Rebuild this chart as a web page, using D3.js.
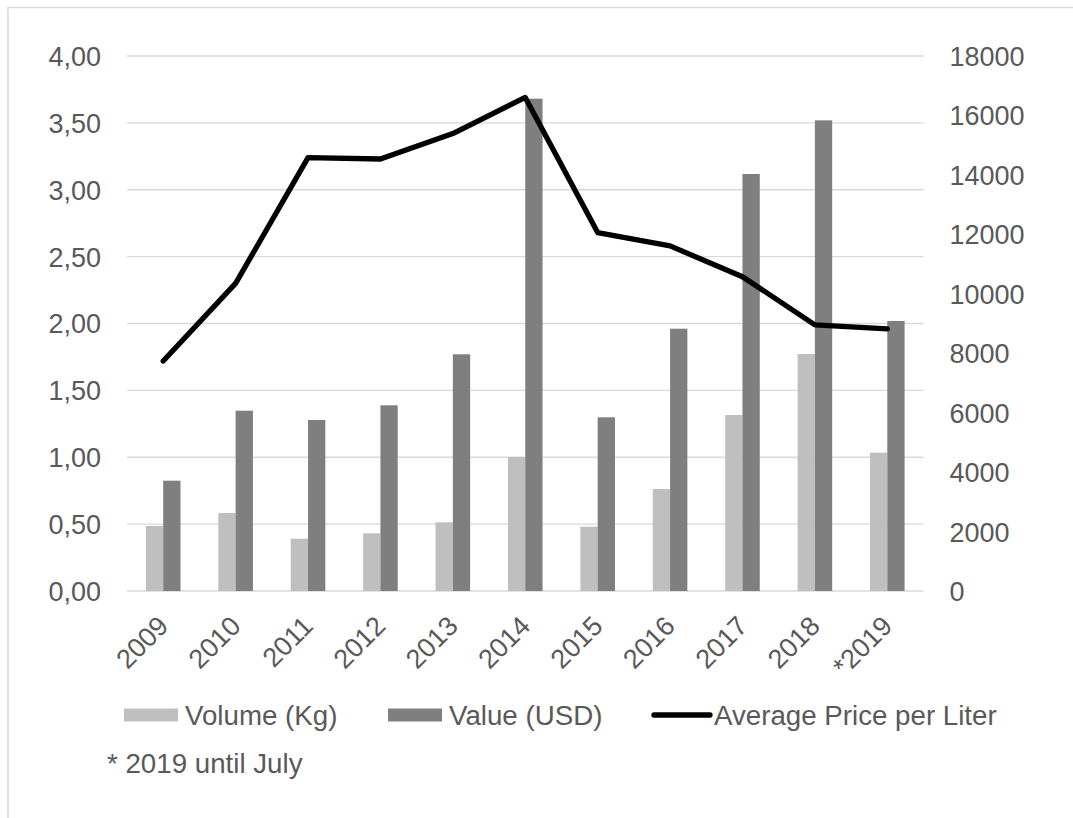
<!DOCTYPE html>
<html>
<head>
<meta charset="utf-8">
<script src="https://cdn.jsdelivr.net/npm/d3@7"></script>
<style>
  html, body { margin: 0; padding: 0; background: #fff; }
  svg { display: block; font-family: "Liberation Sans", Arial, sans-serif; }
</style>
</head>
<body>
<svg id="chart" width="1073" height="818"></svg>
<script>
// Export figures by year (2019 covers January to July)
const years = ["2009", "2010", "2011", "2012", "2013", "2014", "2015", "2016", "2017", "2018", "*2019"];
const volumeKg = [2187, 2624, 1760, 1941, 2311, 4508, 2163, 3432, 5921, 7974, 4653];
const valueUSD = [3711, 6066, 5753, 6248, 7964, 16564, 5844, 8825, 14030, 15836, 9084];
const avgPrice = [1.72, 2.30, 3.24, 3.23, 3.42, 3.69, 2.68, 2.58, 2.35, 1.99, 1.96];

const leftTicks = [0, 0.5, 1, 1.5, 2, 2.5, 3, 3.5, 4];
const rightTicks = [0, 2000, 4000, 6000, 8000, 10000, 12000, 14000, 16000, 18000];

const seriesNames = ["Volume (Kg)", "Value (USD)", "Average Price per Liter"];
const footnote = "* 2019 until July";

const colors = { volume: "#bfbfbf", value: "#7f7f7f", line: "#000000", text: "#595959", grid: "#d9d9d9" };

const svg = d3.select("#chart");
const plot = { left: 127, right: 923.5, top: 56, bottom: 591 };
const fontSize = 27;
const legendFont = 27.7;

// frame around the chart
svg.append("path")
  .attr("d", "M8,818 V7.5 H1073")
  .attr("fill", "none")
  .attr("stroke", colors.grid)
  .attr("stroke-width", 1.5);

const x = d3.scaleBand().domain(years).range([plot.left, plot.right]).padding(0);
const barW = 17.3;
const sub = d3.scaleBand().domain(["volume", "value"]).range([-barW, barW]).padding(0);

const yLeft = d3.scaleLinear().domain([0, 4]).range([plot.bottom, plot.top]);
const yRight = d3.scaleLinear().domain([0, 18000]).range([plot.bottom, plot.top]);

// horizontal gridlines
svg.append("g")
  .selectAll("line")
  .data(leftTicks)
  .join("line")
  .attr("x1", plot.left).attr("x2", plot.right)
  .attr("y1", d => yLeft(d)).attr("y2", d => yLeft(d))
  .attr("stroke", colors.grid)
  .attr("stroke-width", 1.4);

// left axis (price)
const fmtLeft = v => d3.format(".2f")(v).replace(".", ",");
const leftAxis = svg.append("g")
  .attr("transform", `translate(${plot.left - 26},0)`)
  .call(d3.axisLeft(yLeft).tickValues(leftTicks).tickFormat(fmtLeft).tickSize(0).tickPadding(0));
leftAxis.select(".domain").remove();
leftAxis.selectAll("text")
  .attr("fill", colors.text)
  .attr("font-size", fontSize)
  .attr("font-family", "Liberation Sans, Arial, sans-serif")
  .attr("dy", "0.35em");

// right axis (volume / value)
const rightAxis = svg.append("g")
  .attr("transform", `translate(${plot.right + 26},0)`)
  .call(d3.axisRight(yRight).tickValues(rightTicks).tickFormat(d3.format("d")).tickSize(0).tickPadding(0));
rightAxis.select(".domain").remove();
rightAxis.selectAll("text")
  .attr("fill", colors.text)
  .attr("font-size", fontSize)
  .attr("font-family", "Liberation Sans, Arial, sans-serif")
  .attr("dy", "0.35em");

// bars
const barData = years.map((yr, i) => ({ yr, volume: volumeKg[i], value: valueUSD[i] }));
const groups = svg.append("g")
  .selectAll("g")
  .data(barData)
  .join("g")
  .attr("transform", d => `translate(${x(d.yr) + x.bandwidth() / 2},0)`);

groups.selectAll("rect")
  .data(d => ["volume", "value"].map(k => ({ k, v: d[k] })))
  .join("rect")
  .attr("x", d => sub(d.k))
  .attr("width", sub.bandwidth())
  .attr("y", d => yRight(d.v))
  .attr("height", d => yRight(0) - yRight(d.v))
  .attr("fill", d => colors[d.k]);

// average price line
const line = d3.line()
  .x((d, i) => x(years[i]) + x.bandwidth() / 2)
  .y(d => yLeft(d));
svg.append("path")
  .datum(avgPrice)
  .attr("d", line)
  .attr("fill", "none")
  .attr("stroke", colors.line)
  .attr("stroke-width", 5.3)
  .attr("stroke-linejoin", "round")
  .attr("stroke-linecap", "round");

// category labels, rotated
svg.append("g")
  .selectAll("text")
  .data(years)
  .join("text")
  .attr("transform", d => `translate(${x(d) + x.bandwidth() / 2},621) rotate(-45)`)
  .attr("text-anchor", "end")
  .attr("dy", "0.35em")
  .attr("fill", colors.text)
  .attr("font-size", fontSize)
  .text(d => d);

// legend
const legend = svg.append("g").attr("font-size", legendFont).attr("fill", colors.text);
const legendY = 715;
const legendItems = [
  { name: seriesNames[0], type: "rect", color: colors.volume, x: 124 },
  { name: seriesNames[1], type: "rect", color: colors.value, x: 388 },
  { name: seriesNames[2], type: "line", color: colors.line, x: 652 }
];
legendItems.forEach(it => {
  if (it.type === "rect") {
    legend.append("rect")
      .attr("x", it.x).attr("y", legendY - 6.5)
      .attr("width", 54).attr("height", 13)
      .attr("fill", it.color);
    legend.append("text")
      .attr("x", it.x + 61).attr("y", legendY)
      .attr("dy", "0.35em")
      .text(it.name);
  } else {
    legend.append("line")
      .attr("x1", it.x + 2).attr("x2", it.x + 58)
      .attr("y1", legendY).attr("y2", legendY)
      .attr("stroke", it.color)
      .attr("stroke-width", 5.3)
      .attr("stroke-linecap", "round");
    legend.append("text")
      .attr("x", it.x + 62).attr("y", legendY)
      .attr("dy", "0.35em")
      .text(it.name);
  }
});

// footnote
svg.append("text")
  .attr("x", 107).attr("y", 763)
  .attr("dy", "0.35em")
  .attr("fill", colors.text)
  .attr("font-size", legendFont)
  .text(footnote);
</script>
</body>
</html>
